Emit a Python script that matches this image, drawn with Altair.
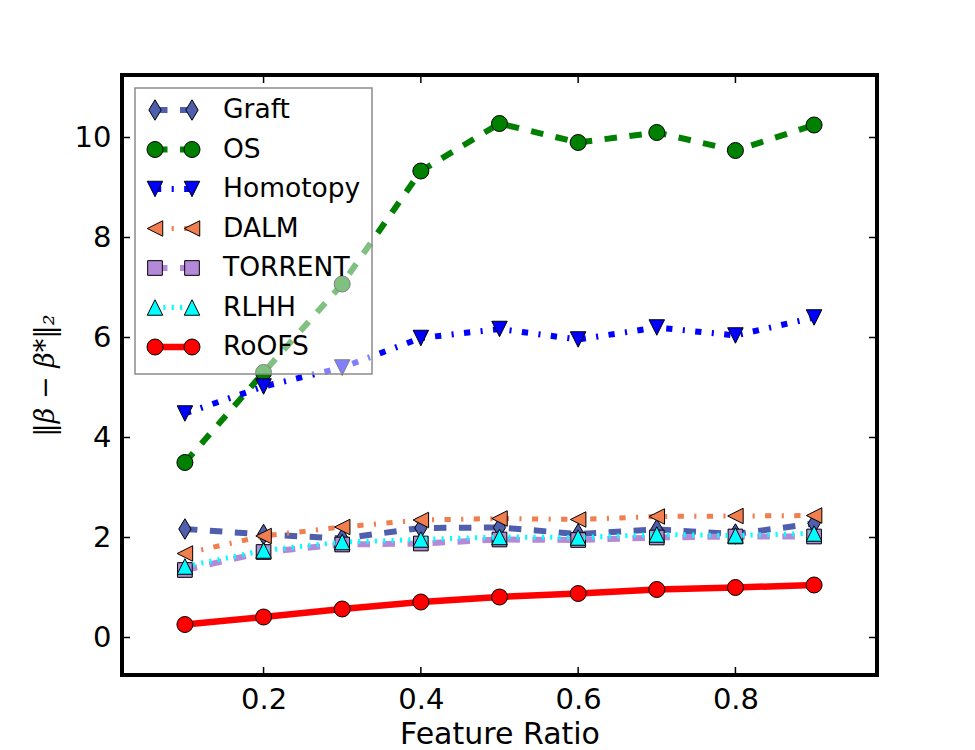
import altair as alt
import pandas as pd

# Estimation error for each method versus the feature ratio
ratios = [0.1, 0.2, 0.3, 0.4, 0.5, 0.6, 0.7, 0.8, 0.9]
graft = [2.17, 2.06, 1.98, 2.19, 2.20, 2.07, 2.16, 2.07, 2.28]
os_err = [3.50, 5.30, 7.07, 9.33, 10.28, 9.90, 10.10, 9.74, 10.25]
homotopy = [4.48, 5.02, 5.40, 5.99, 6.17, 5.96, 6.20, 6.04, 6.40]
dalm = [1.68, 2.03, 2.21, 2.35, 2.38, 2.36, 2.42, 2.43, 2.44]
torrent = [1.35, 1.71, 1.86, 1.88, 1.96, 1.95, 2.00, 2.02, 2.02]
rlhh = [1.42, 1.74, 1.91, 1.96, 2.01, 2.00, 2.06, 2.04, 2.08]
roofs = [0.26, 0.41, 0.57, 0.71, 0.81, 0.88, 0.96, 1.00, 1.05]

methods = ["Graft", "OS", "Homotopy", "DALM", "TORRENT", "RLHH", "RoOFS"]
values = [graft, os_err, homotopy, dalm, torrent, rlhh, roofs]

x_ticks = [0.2, 0.4, 0.6, 0.8]
y_ticks = [0, 2, 4, 6, 8, 10]

# Marker outlines in the [-1, 1] box (SVG y points down)
DIAMOND = "M0,-1L0.6,0L0,1L-0.6,0Z"
TRI_DOWN = "M0,1L1,-1L-1,-1Z"
TRI_UP = "M0,-1L1,1L-1,1Z"
TRI_LEFT = "M-1,0L1,-1L1,1Z"

DASHED = [12.5, 12.5]
DASHDOT = [6.25, 10.4, 2.1, 10.4]
DOTTED = [2.1, 6.25]

styles = {
    "Graft": dict(color="#4f5ead", dash=DASHED, width=6, shape=DIAMOND, size=420),
    "OS": dict(color="#008000", dash=DASHED, width=6, shape="circle", size=256),
    "Homotopy": dict(color="#0000ff", dash=DASHDOT, width=6, shape=TRI_DOWN, size=240),
    "DALM": dict(color="#f07e4f", dash=DASHDOT, width=5, shape=TRI_LEFT, size=240),
    "TORRENT": dict(color="#b48ad8", dash=DASHED, width=6, shape="square", size=215),
    "RLHH": dict(color="#00ffff", dash=DOTTED, width=5, shape=TRI_UP, size=240),
    "RoOFS": dict(color="#ff0000", dash=None, width=6.5, shape="circle", size=256),
}

W, H = 755, 600

x_scale = alt.Scale(domain=[0.02, 0.98], nice=False, zero=False)
y_scale = alt.Scale(domain=[-0.75, 11.25], nice=False, zero=False)

x_axis = alt.Axis(
    values=x_ticks, format=".1f", grid=False, ticks=False, domain=False, tickSize=0,
    labelFont="DejaVu Sans", labelFontSize=29, labelColor="black", labelPadding=10,
    labelBaseline="top", labelFlush=False,
    titleFont="DejaVu Sans", titleFontSize=30, titleFontWeight="normal", titleColor="black",
    titleX=W / 2, titleY=68, titleAlign="center", titleBaseline="alphabetic",
)
y_axis = alt.Axis(
    values=y_ticks, format="d", grid=False, ticks=False, domain=False, tickSize=0,
    labelFont="DejaVu Sans", labelFontSize=29, labelColor="black", labelPadding=11,
    labelFlush=False,
    titleFont="DejaVu Serif", titleFontSize=27, titleFontStyle="italic",
    titleFontWeight="normal", titleColor="black",
    titleX=-77, titleY=H / 2, titleAlign="center", titleBaseline="middle", titleAngle=270,
)


def xe(field):
    return alt.X(f"{field}:Q", scale=x_scale, axis=x_axis, title="Feature Ratio")


def ye(field):
    return alt.Y(f"{field}:Q", scale=y_scale, axis=y_axis, title="‖β − β*‖₂")


layers = []

# Data series: line first, then its markers on top, in legend order
for name, vals in zip(methods, values):
    st = styles[name]
    df = pd.DataFrame({"ratio": ratios, "err": vals})
    line_kw = dict(color=st["color"], strokeWidth=st["width"], strokeJoin="round")
    if st["dash"]:
        line_kw["strokeDash"] = st["dash"]
    layers.append(alt.Chart(df).mark_line(**line_kw).encode(x=xe("ratio"), y=ye("err")))
    layers.append(
        alt.Chart(df)
        .mark_point(shape=st["shape"], size=st["size"], filled=True, fill=st["color"],
                    stroke="black", strokeWidth=1, opacity=1)
        .encode(x=xe("ratio"), y=ye("err"))
    )

# Inward tick marks on all four sides
xt = pd.DataFrame({"t": x_ticks})
yt = pd.DataFrame({"t": y_ticks})
TICK = 8
layers.append(alt.Chart(xt).mark_rule(color="black", strokeWidth=1.5)
              .encode(x=xe("t"), y=alt.value(H), y2=alt.value(H - TICK)))
layers.append(alt.Chart(xt).mark_rule(color="black", strokeWidth=1.5)
              .encode(x=xe("t"), y=alt.value(0), y2=alt.value(TICK)))
layers.append(alt.Chart(yt).mark_rule(color="black", strokeWidth=1.5)
              .encode(y=ye("t"), x=alt.value(0), x2=alt.value(TICK)))
layers.append(alt.Chart(yt).mark_rule(color="black", strokeWidth=1.5)
              .encode(y=ye("t"), x=alt.value(W), x2=alt.value(W - TICK)))

# Legend box (half-transparent white over the lines)
one = pd.DataFrame({"k": [0]})
layers.append(
    alt.Chart(one)
    .mark_rect(fill="white", fillOpacity=0.5, stroke="#8c8c8c", strokeWidth=1.5)
    .encode(x=alt.value(13), x2=alt.value(250), y=alt.value(13), y2=alt.value(299))
)

LX0, LX1, LTX = 33, 70, 101
for i, name in enumerate(methods):
    st = styles[name]
    ly = 35 + 39.5 * i
    row = pd.DataFrame({"label": [name]})
    rule_kw = dict(color=st["color"], strokeWidth=st["width"])
    if st["dash"]:
        rule_kw["strokeDash"] = st["dash"]
    layers.append(alt.Chart(row).mark_rule(**rule_kw)
                  .encode(x=alt.value(LX0), x2=alt.value(LX1), y=alt.value(ly)))
    for mx in (LX0, LX1):
        layers.append(
            alt.Chart(row)
            .mark_point(shape=st["shape"], size=st["size"], filled=True, fill=st["color"],
                        stroke="black", strokeWidth=1, opacity=1)
            .encode(x=alt.value(mx), y=alt.value(ly))
        )
    layers.append(
        alt.Chart(row)
        .mark_text(align="left", baseline="middle", font="DejaVu Sans", fontSize=26.5,
                   color="black")
        .encode(x=alt.value(LTX), y=alt.value(ly), text="label:N")
    )

chart = (
    alt.layer(*layers)
    .properties(
        width=W,
        height=H,
        padding={"left": 122, "top": 75, "right": 975 - 122 - W, "bottom": 750 - 75 - H},
        autosize=alt.AutoSizeParams(type="none"),
        background="white",
    )
    .configure_view(stroke="black", strokeWidth=4)
)

chart.save("out.html", embed_options={"renderer": "svg", "actions": False})
